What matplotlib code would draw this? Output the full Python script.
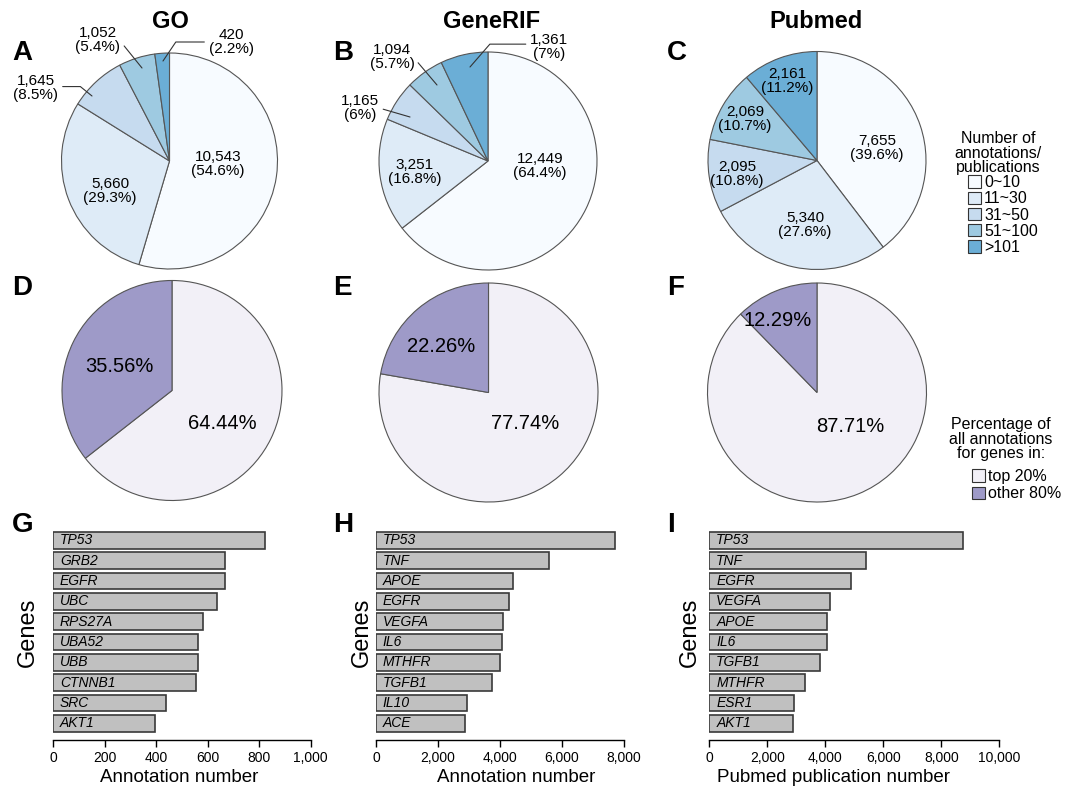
import numpy as np
import matplotlib
matplotlib.use('Agg')
import matplotlib.pyplot as plt
from matplotlib.ticker import FuncFormatter, MultipleLocator

plt.rcParams['font.family'] = ['Liberation Sans', 'DejaVu Sans']

# ---- data ----
bin_labels = ['0~10', '11~30', '31~50', '51~100', '>101']
go_counts = [10543, 5660, 1645, 1052, 420]
generif_counts = [12449, 3251, 1165, 1094, 1361]
pubmed_counts = [7655, 5340, 2095, 2069, 2161]

share_labels = ['top 20%', 'other 80%']
go_share = [64.44, 35.56]
generif_share = [77.74, 22.26]
pubmed_share = [87.71, 12.29]

go_genes = ['TP53', 'GRB2', 'EGFR', 'UBC', 'RPS27A', 'UBA52', 'UBB', 'CTNNB1', 'SRC', 'AKT1']
go_values = [824, 668, 666, 635, 581, 562, 561, 553, 437, 395]
generif_genes = ['TP53', 'TNF', 'APOE', 'EGFR', 'VEGFA', 'IL6', 'MTHFR', 'TGFB1', 'IL10', 'ACE']
generif_values = [7720, 5570, 4410, 4300, 4090, 4065, 4000, 3740, 2925, 2860]
pubmed_genes = ['TP53', 'TNF', 'EGFR', 'VEGFA', 'APOE', 'IL6', 'TGFB1', 'MTHFR', 'ESR1', 'AKT1']
pubmed_values = [8760, 5400, 4880, 4170, 4070, 4050, 3820, 3300, 2930, 2900]

blues = ['#f7fbff', '#deebf7', '#c6dbef', '#9ecae1', '#6baed6']
purples = ['#f2f0f7', '#9e9ac8']

W, H = 1066, 794
fig = plt.figure(figsize=(W / 100, H / 100), dpi=100)


def px_axes(left, top, width, height):
    return fig.add_axes([left / W, 1 - (top + height) / H, width / W, height / H])


def draw_pie(cx, cy, r, values, colors):
    pad = 1.05
    ax = px_axes(cx - r * pad, cy - r * pad, 2 * r * pad, 2 * r * pad)
    wedges, _ = ax.pie(values, colors=colors, startangle=90, counterclock=False,
                       wedgeprops=dict(edgecolor='#555555', linewidth=0.8))
    ax.set_xlim(-pad, pad)
    ax.set_ylim(-pad, pad)
    ax.set_aspect('equal')
    return ax, wedges


def count_label(n, total):
    p = f'{100 * n / total:.1f}'.rstrip('0').rstrip('.')
    return f'{n:,}\n({p}%)'


def ptext(x, y, s, **kw):
    fig.text(x / W, 1 - y / H, s, **kw)


# ---- top row: distribution pies ----
pie_specs = [
    # counts, center, radius, inside label pixel positions (None = outside label)
    (go_counts, (169.5, 161), 108, [(218, 164), (110, 191), None, None, None]),
    (generif_counts, (488, 161), 109, [(540, 166), (415, 172), None, None, None]),
    (pubmed_counts, (817, 160.5), 109, [(877, 148), (805, 225), (737, 174), (745, 119), (787, 81)]),
]
# outside labels: (pie, index, text xy, end xy, relpos, connection)
outside = [
    (0, 2, (36, 88), (92, 96), (1, 0.55), 'angle,angleA=0,angleB=141,rad=0'),
    (0, 3, (98, 40), (142, 68), (1, 0.45), 'arc3'),
    (0, 4, (231, 42), (163, 61), (0, 0.5), 'angle,angleA=0,angleB=56,rad=0'),
    (1, 4, (549, 47), (470, 67), (0, 0.6), 'angle,angleA=0,angleB=49,rad=0'),
    (1, 3, (392, 57), (437, 85), (1, 0.45), 'arc3'),
    (1, 2, (360, 108), (410, 117), (1, 0.5), 'arc3'),
]

top_wedges = []
for counts, (cx, cy), r, pos in pie_specs:
    ax, wedges = draw_pie(cx, cy, r, counts, blues)
    top_wedges.append((ax, wedges))
    total = sum(counts)
    for n, p in zip(counts, pos):
        if p is not None:
            ptext(p[0], p[1], count_label(n, total), ha='center', va='center',
                  fontsize=11, linespacing=1.05)

for pi, idx, txy, exy, rel, conn in outside:
    ax = top_wedges[pi][0]
    counts = pie_specs[pi][0]
    ax.annotate(count_label(counts[idx], sum(counts)),
                xy=(exy[0], H - exy[1]), xycoords='figure pixels',
                xytext=(txy[0], H - txy[1]), textcoords='figure pixels',
                ha='center', va='center', fontsize=11, linespacing=1.05,
                annotation_clip=False,
                arrowprops=dict(arrowstyle='-', color='#333333', lw=0.8,
                                connectionstyle=conn, relpos=rel,
                                shrinkA=1, shrinkB=0))

# ---- middle row: top 20% share pies ----
share_specs = [
    (go_share, (172, 390.5), 110, [(222, 424), (119, 366)]),
    (generif_share, (488.5, 392.5), 109.5, [(525, 424), (441, 346)]),
    (pubmed_share, (817, 392.5), 109.5, [(850, 426), (778, 321)]),
]
share_wedges = None
for vals, (cx, cy), r, pos in share_specs:
    ax, wedges = draw_pie(cx, cy, r, vals, purples)
    share_wedges = wedges
    for v, p in zip(vals, pos):
        ptext(p[0], p[1], f'{v:.2f}%', ha='center', va='center', fontsize=14.5)

# ---- legends ----
ptext(998, 153, 'Number of\nannotations/\npublications', ha='center', va='center',
      fontsize=11.5, linespacing=0.92)
leg = fig.legend(top_wedges[2][1], bin_labels, loc='upper left',
                 bbox_to_anchor=(968 / W, 1 - 175 / H), frameon=False, fontsize=11.5,
                 handlelength=0.8, handleheight=0.8, handletextpad=0.2,
                 labelspacing=0.08, borderpad=0, borderaxespad=0)
for h in leg.legend_handles:
    h.set_edgecolor('#333333')

ptext(1001, 439, 'Percentage of\nall annotations\nfor genes in:', ha='center', va='center',
      fontsize=11.5, linespacing=0.92)
leg = fig.legend(share_wedges, share_labels, loc='upper left',
                 bbox_to_anchor=(972 / W, 1 - 469 / H), frameon=False, fontsize=11.5,
                 handlelength=0.8, handleheight=0.8, handletextpad=0.2,
                 labelspacing=0.15, borderpad=0, borderaxespad=0)
for h in leg.legend_handles:
    h.set_edgecolor('#333333')

# ---- bottom row: top genes ----
bar_specs = [
    (53, 310.7, go_genes, go_values, 1000, 200, 'Annotation number', 0.49, 28),
    (376, 624, generif_genes, generif_values, 8000, 2000, 'Annotation number', 0.567, 362),
    (709.3, 999.3, pubmed_genes, pubmed_values, 10000, 2000, 'Pubmed publication number', 0.427, 690),
]
for left, right, genes, vals, xmax, step, xlabel, xl_pos, gx in bar_specs:
    ax = px_axes(left, 528, right - left, 212)
    y = np.arange(len(genes))
    ax.barh(y, vals, height=0.82, color='#c0c0c0', edgecolor='#3a3a3a', linewidth=1.2)
    for yi, g in zip(y, genes):
        ax.annotate(g, xy=(0, yi), xytext=(5, 0), textcoords='offset points',
                    va='center', ha='left', fontsize=10, style='italic')
    ax.set_xlim(0, xmax)
    ax.set_ylim(len(genes) - 1 + 0.82, -0.6)
    ax.xaxis.set_major_locator(MultipleLocator(step))
    ax.xaxis.set_major_formatter(FuncFormatter(lambda v, _: f'{v:,.0f}'))
    for s in ['top', 'right', 'left']:
        ax.spines[s].set_visible(False)
    ax.spines['bottom'].set_linewidth(1.0)
    ax.set_yticks([])
    ax.tick_params(axis='x', direction='out', length=5, width=1, labelsize=10, pad=3)
    ax.set_xlabel(xlabel, fontsize=13.5, labelpad=3)
    ax.xaxis.label.set_x(xl_pos)
    ptext(gx, 632, 'Genes', rotation=90, ha='center', va='center', fontsize=17)

# ---- titles and panel letters ----
for x, t in zip([170, 492, 816], ['GO', 'GeneRIF', 'Pubmed']):
    ptext(x, 21, t, ha='center', va='center', fontsize=17, fontweight='bold')

letters = 'ABCDEFGHI'
for i, ch in enumerate(letters):
    x = [12, 333, 667][i % 3]
    y = [52.5, 287.5, 525][i // 3]
    ptext(x, y, ch, ha='left', va='center', fontsize=20, fontweight='bold')

fig.savefig('out.png', dpi=100)
